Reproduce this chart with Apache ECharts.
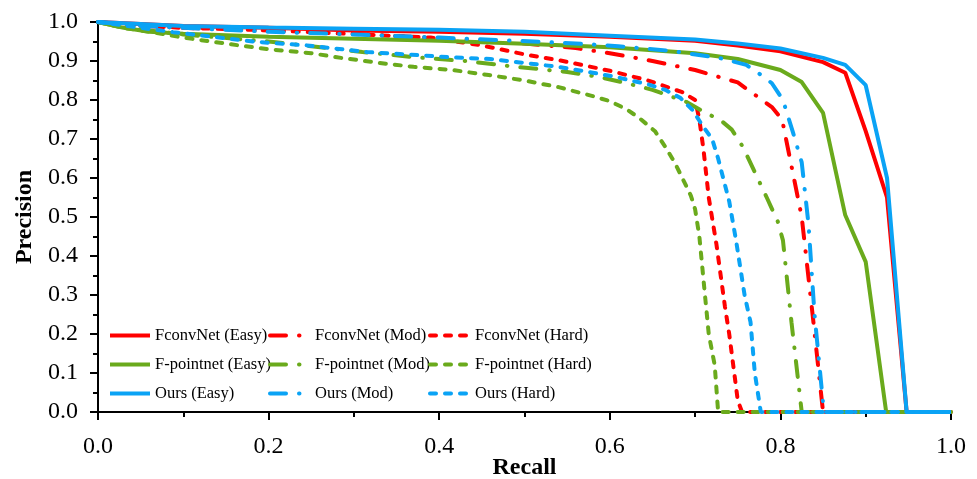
<!DOCTYPE html>
<html>
<head>
<meta charset="utf-8">
<script src="https://cdn.jsdelivr.net/npm/echarts@6/dist/echarts.min.js"></script>
<style>html,body{margin:0;padding:0;background:#fff}#c{width:977px;height:479px}</style>
</head>
<body>
<div id="c"></div>
<script>
var xTicks = [0, 0.2, 0.4, 0.6, 0.8, 1.0];
var yTicks = [0, 0.1, 0.2, 0.3, 0.4, 0.5, 0.6, 0.7, 0.8, 0.9, 1.0];
var seriesNames = ['FconvNet (Easy)', 'FconvNet (Mod)', 'FconvNet (Hard)',
                   'F-pointnet (Easy)', 'F-pointnet (Mod)', 'F-pointnet (Hard)',
                   'Ours (Easy)', 'Ours (Mod)', 'Ours (Hard)'];

var fconvEasy = [[0,1],[0.1,0.99],[0.2,0.985],[0.3,0.978],[0.4,0.975],[0.5,0.97],[0.6,0.962],[0.7,0.952],[0.75,0.94],[0.8,0.925],[0.85,0.897],[0.876,0.87],[0.9,0.72],[0.925,0.55],[0.948,0],[1,0]];
var fconvMod = [[0,1],[0.05,0.99],[0.1,0.985],[0.2,0.978],[0.3,0.97],[0.4,0.958],[0.5,0.945],[0.56,0.933],[0.6,0.92],[0.65,0.9],[0.7,0.877],[0.75,0.845],[0.79,0.782],[0.802,0.75],[0.825,0.5],[0.838,0.245],[0.85,0],[1,0]];
var fconvHard = [[0,1],[0.05,0.99],[0.1,0.985],[0.18,0.98],[0.24,0.975],[0.29,0.97],[0.35,0.964],[0.39,0.96],[0.45,0.94],[0.5,0.917],[0.545,0.9],[0.6,0.875],[0.645,0.85],[0.685,0.82],[0.7,0.8],[0.705,0.75],[0.71,0.67],[0.716,0.55],[0.725,0.43],[0.735,0.27],[0.74,0.2],[0.75,0.03],[0.755,0],[1,0]];
var fpEasy = [[0,1],[0.03,0.985],[0.06,0.975],[0.1,0.97],[0.2,0.962],[0.3,0.957],[0.4,0.952],[0.5,0.944],[0.6,0.935],[0.7,0.92],[0.75,0.905],[0.8,0.877],[0.825,0.846],[0.85,0.767],[0.876,0.505],[0.9,0.385],[0.924,0],[1,0]];
var fpMod = [[0,1],[0.03,0.985],[0.06,0.978],[0.1,0.968],[0.2,0.95],[0.31,0.923],[0.37,0.91],[0.43,0.9],[0.49,0.885],[0.55,0.872],[0.585,0.86],[0.62,0.843],[0.65,0.826],[0.69,0.795],[0.71,0.77],[0.73,0.748],[0.743,0.724],[0.756,0.68],[0.784,0.55],[0.797,0.488],[0.803,0.44],[0.813,0.23],[0.825,0],[1,0]];
var fpHard = [[0,1],[0.03,0.985],[0.06,0.975],[0.1,0.96],[0.155,0.943],[0.2,0.93],[0.25,0.92],[0.285,0.908],[0.33,0.895],[0.37,0.885],[0.415,0.877],[0.458,0.864],[0.5,0.85],[0.54,0.833],[0.58,0.81],[0.6,0.797],[0.62,0.776],[0.635,0.753],[0.653,0.72],[0.665,0.68],[0.676,0.64],[0.685,0.6],[0.695,0.555],[0.7,0.52],[0.705,0.45],[0.712,0.29],[0.716,0.2],[0.723,0.12],[0.727,0],[1,0]];
var oursEasy = [[0,1],[0.1,0.99],[0.2,0.986],[0.3,0.983],[0.4,0.98],[0.5,0.975],[0.6,0.965],[0.7,0.955],[0.75,0.945],[0.8,0.932],[0.85,0.908],[0.876,0.89],[0.9,0.838],[0.925,0.6],[0.948,0],[1,0]];
var oursMod = [[0,1],[0.05,0.99],[0.1,0.985],[0.2,0.975],[0.3,0.968],[0.4,0.96],[0.49,0.952],[0.56,0.945],[0.61,0.938],[0.675,0.925],[0.73,0.907],[0.76,0.89],[0.78,0.86],[0.79,0.843],[0.803,0.8],[0.815,0.715],[0.825,0.64],[0.833,0.48],[0.84,0.25],[0.851,0],[1,0]];
var oursHard = [[0,1],[0.05,0.985],[0.088,0.974],[0.186,0.949],[0.245,0.94],[0.315,0.923],[0.354,0.918],[0.41,0.91],[0.46,0.905],[0.5,0.895],[0.54,0.885],[0.58,0.87],[0.605,0.86],[0.625,0.85],[0.645,0.84],[0.665,0.826],[0.683,0.805],[0.697,0.774],[0.71,0.73],[0.72,0.7],[0.727,0.65],[0.74,0.54],[0.748,0.44],[0.758,0.3],[0.765,0.23],[0.77,0.1],[0.777,0],[1,0]];

var RED = '#ff0000', GREEN = '#6aaa1c', BLUE = '#0aa3f5';
var FONT = '"Liberation Serif", "Times New Roman", serif';
var SOLID = 'solid', MOD = [16, 13, 0.5, 13], HARD = [6, 9];

function capOf(type) { return type === SOLID ? 'butt' : 'round'; }

function mk(name, data, color, type) {
  return {
    name: name, type: 'line', data: data, symbol: 'none', clip: false,
    lineStyle: { color: color, width: 4, type: type, cap: capOf(type) },
    itemStyle: { color: color }
  };
}

var defs = [
  [seriesNames[0], fconvEasy, RED, SOLID],
  [seriesNames[1], fconvMod, RED, MOD],
  [seriesNames[2], fconvHard, RED, HARD],
  [seriesNames[3], fpEasy, GREEN, SOLID],
  [seriesNames[4], fpMod, GREEN, MOD],
  [seriesNames[5], fpHard, GREEN, HARD],
  [seriesNames[6], oursEasy, BLUE, SOLID],
  [seriesNames[7], oursMod, BLUE, MOD],
  [seriesNames[8], oursHard, BLUE, HARD]
];
var series = defs.map(function (d) { return mk(d[0], d[1], d[2], d[3]); });

function lg(left, idx) {
  return {
    orient: 'vertical', left: left, top: 327, padding: 0,
    itemWidth: 40, itemHeight: 14, itemGap: 12,
    itemStyle: { opacity: 0 },
    lineStyle: { width: 4 },
    textStyle: { fontFamily: FONT, fontSize: 16.5, color: '#000' },
    data: idx.map(function (i) {
      return { name: defs[i][0], lineStyle: { width: 4, color: defs[i][2], type: defs[i][3], cap: capOf(defs[i][3]) } };
    })
  };
}

var chart = echarts.init(document.getElementById('c'), null, { renderer: 'canvas' });
chart.setOption({
  animation: false,
  backgroundColor: '#fff',
  grid: { left: 98, right: 26, top: 22, bottom: 67, containLabel: false, outerBoundsMode: 'none' },
  legend: [lg(108, [0, 3, 6]), lg(268, [1, 4, 7]), lg(428, [2, 5, 8])],
  xAxis: {
    type: 'value', min: xTicks[0], max: xTicks[xTicks.length - 1], interval: 0.2,
    name: 'Recall', nameLocation: 'middle', nameGap: 44, nameMoveOverlap: false,
    nameTextStyle: { fontFamily: FONT, fontSize: 24, fontWeight: 'bold', color: '#000' },
    axisLine: { lineStyle: { color: '#000', width: 2 } },
    axisTick: { show: true, length: 8, lineStyle: { color: '#000', width: 2 } },
    minorTick: { show: true, splitNumber: 2, length: 5, lineStyle: { color: '#000', width: 2 } },
    splitLine: { show: false },
    axisLabel: { fontFamily: FONT, fontSize: 24, color: '#000', margin: 23,
      formatter: function (v) { return v.toFixed(1); } }
  },
  yAxis: {
    type: 'value', min: yTicks[0], max: yTicks[yTicks.length - 1], interval: 0.1,
    name: 'Precision', nameLocation: 'middle', nameGap: 61, nameRotate: 90, nameMoveOverlap: false,
    nameTextStyle: { fontFamily: FONT, fontSize: 24, fontWeight: 'bold', color: '#000' },
    axisLine: { lineStyle: { color: '#000', width: 2 } },
    axisTick: { show: true, length: 8, lineStyle: { color: '#000', width: 2 } },
    minorTick: { show: true, splitNumber: 2, length: 5, lineStyle: { color: '#000', width: 2 } },
    splitLine: { show: false },
    axisLabel: { fontFamily: FONT, fontSize: 24, color: '#000', margin: 20,
      formatter: function (v) { return v.toFixed(1); } }
  },
  series: series
});
</script>
</body>
</html>
